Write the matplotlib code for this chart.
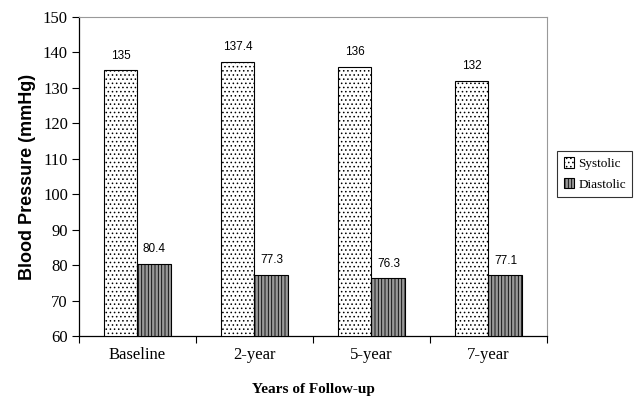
#!/usr/bin/env python3
"""Grouped bar chart: systolic / diastolic blood pressure over follow-up years."""

import matplotlib
matplotlib.use("Agg")
import matplotlib.pyplot as plt
import numpy as np
from matplotlib.patches import Patch

CATEGORIES = ["Baseline", "2-year", "5-year", "7-year"]
SYSTOLIC   = [135, 137.4, 136, 132]
DIASTOLIC  = [80.4, 77.3, 76.3, 77.1]
SYS_LABELS = ["135", "137.4", "136", "132"]
DIA_LABELS = ["80.4", "77.3", "76.3", "77.1"]
Y_TICKS    = list(range(60, 151, 10))

SERIF = "Liberation Serif"
SANS  = "Liberation Sans"

plt.rcParams["hatch.linewidth"] = 0.6

fig = plt.figure(figsize=(6.39, 4.04), dpi=100)
ax = fig.add_axes([0.1236, 0.168, 0.7324, 0.790])

x = np.arange(len(CATEGORIES))
w = 0.29
base = Y_TICKS[0]

ax.bar(x - w / 2, np.array(SYSTOLIC) - base, w, bottom=base,
       facecolor="white", edgecolor="black", hatch="....",
       linewidth=0.8, zorder=3)
ax.bar(x + w / 2, np.array(DIASTOLIC) - base, w, bottom=base,
       facecolor="#999999", edgecolor="black", hatch="|||||",
       linewidth=0.8, zorder=3)

for xi, v, s in zip(x - w / 2, SYSTOLIC, SYS_LABELS):
    ax.annotate(s, (xi, v), xytext=(0, 6), textcoords="offset points",
                ha="center", va="bottom", fontsize=8.5, family=SANS)
for xi, v, s in zip(x + w / 2, DIASTOLIC, DIA_LABELS):
    ax.annotate(s, (xi, v), xytext=(0, 6), textcoords="offset points",
                ha="center", va="bottom", fontsize=8.5, family=SANS)

ax.set_xlim(-0.5, len(CATEGORIES) - 0.5)
ax.set_ylim(Y_TICKS[0], Y_TICKS[-1])
ax.set_yticks(Y_TICKS)
ax.set_yticklabels([str(t) for t in Y_TICKS], family=SERIF, fontsize=12)
ax.set_xticks(x)
ax.set_xticklabels(CATEGORIES, family=SERIF, fontsize=12)
ax.set_xticks(np.arange(-0.5, len(CATEGORIES)), minor=True)
ax.tick_params(axis="x", which="major", length=0, pad=8)
ax.tick_params(axis="x", which="minor", length=5, direction="out", width=0.8)
ax.tick_params(axis="y", length=5, direction="out", width=0.8, pad=3)

for side in ("top", "right"):
    ax.spines[side].set_color("#999999")
for side in ("left", "bottom"):
    ax.spines[side].set_color("black")
    ax.spines[side].set_linewidth(0.9)

ax.set_ylabel("Blood Pressure (mmHg)", family=SANS, fontweight="bold",
              fontsize=13, labelpad=5)
ax.set_xlabel("Years of Follow-up", family=SERIF, fontweight="bold",
              fontsize=11, labelpad=14)

handles = [
    Patch(facecolor="white", edgecolor="black", hatch="....", linewidth=0.8, label="Systolic"),
    Patch(facecolor="#999999", edgecolor="black", hatch="|||||", linewidth=0.8, label="Diastolic"),
]
leg = fig.legend(handles=handles, loc="center left",
                 bbox_to_anchor=(557 / 639, 1 - 174 / 404),
                 prop={"family": SERIF, "size": 9.5},
                 frameon=True, fancybox=False, shadow=False,
                 handlelength=0.8, handleheight=0.8, handletextpad=0.3,
                 borderpad=0.5, labelspacing=0.6, borderaxespad=0)
leg.get_frame().set_edgecolor("black")
leg.get_frame().set_linewidth(0.8)

fig.savefig("out.png", dpi=100)
